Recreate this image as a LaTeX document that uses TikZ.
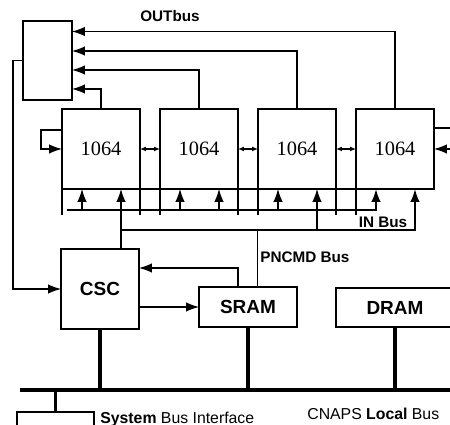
\documentclass[tikz,border=0pt]{standalone}
\usepackage{fontspec}
\setmainfont{Liberation Serif}
\setsansfont{Liberation Sans}
\usetikzlibrary{positioning, calc, arrows.meta}
\tikzset{
    chipnode/.style={rectangle, draw, line width=1.2pt, minimum width=1.56cm, minimum height=1.6cm, inner sep=0pt, outer sep=0pt, font=\fontsize{11.6}{13}\selectfont},
    unitnode/.style={rectangle, draw, line width=0.6pt, inner sep=0pt, outer sep=0pt, font=\sffamily\bfseries\fontsize{10.8}{12}\selectfont},
    boxnode/.style={rectangle, draw, line width=0.6pt, inner sep=0pt, outer sep=0pt},
    buslabel/.style={inner sep=0pt, font=\sffamily\bfseries\fontsize{8.7}{10}\selectfont},
    baselabel/.style={inner sep=0pt, font=\sffamily\fontsize{9}{11}\selectfont},
    arrow/.style={-{Latex[length=2.6mm, width=1.9mm]}, line width=0.7pt},
    dblarrow/.style={{Latex[length=1.2mm, width=1mm]}-{Latex[length=1.2mm, width=1mm]}, line width=0.8pt},
    busline/.style={line width=1.1pt},
    mainbus/.style={line width=2.4pt},
    stubline/.style={line width=1.9pt},
}

\begin{document}
\begin{tikzpicture}[x=0.02cm, y=-0.02cm]
    \useasboundingbox (0,0) rectangle (450,425);

    % OUT collector
    \node[boxnode, minimum width=0.98cm, minimum height=1.58cm] (out) at (47.5,60.5) {};
    \node[buslabel] (outlbl) at (170,16) {OUTbus};

    % Chips
    \node[chipnode] (c1) at (101,149) {1064};
    \node[chipnode] (c2) at (199,149) {1064};
    \node[chipnode] (c3) at (297,149) {1064};
    \node[chipnode] (c4) at (395,149) {1064};
    \draw[busline] (c1.south west) -- (c4.south east);
    \draw[busline] (c1.south west) -- ++(0,26);
    \draw[busline] (c1.south east) -- ++(0,26);
    \draw[busline] (c2.south west) -- ++(0,26);
    \draw[busline] (c2.south east) -- ++(0,26);
    \draw[busline] (c3.south west) -- ++(0,26);
    \draw[busline] (c3.south east) -- ++(0,26);
    \draw[busline] (c4.south west) -- ++(0,26);

    % Outputs to OUTbus
    \draw[arrow] (c4.north) |- ([yshift=0.58cm]out.east);
    \draw[arrow] (c3.north) |- ([yshift=0.19cm]out.east);
    \draw[arrow] (c2.north) |- ([yshift=-0.19cm]out.east);
    \draw[arrow] (c1.north) |- ([yshift=-0.57cm]out.east);

    % Neighbour links
    \draw[arrow] ([yshift=0.38cm]c1.west) -- ++(-21,0) |- (c1.west);
    \draw[dblarrow] (c1.east) -- (c2.west);
    \draw[dblarrow] (c2.east) -- (c3.west);
    \draw[dblarrow] (c3.east) -- (c4.west);
    \coordinate (rout) at (450,128);
    \coordinate (rin) at (450,149);
    \draw[busline] ([yshift=0.42cm]c4.east) -- (rout);
    \draw[arrow] (rin) -- (c4.east);

    % IN Bus
    \coordinate (c1l) at ([xshift=-0.38cm]c1.south);
    \coordinate (c1r) at ([xshift=0.4cm]c1.south);
    \coordinate (c2l) at ([xshift=-0.38cm]c2.south);
    \coordinate (c2r) at ([xshift=0.4cm]c2.south);
    \coordinate (c3l) at ([xshift=-0.38cm]c3.south);
    \coordinate (c3r) at ([xshift=0.4cm]c3.south);
    \coordinate (c4l) at ([xshift=-0.38cm]c4.south);
    \coordinate (c4r) at ([xshift=0.4cm]c4.south);
    \coordinate (ubus) at (67,210);
    \coordinate (lbus) at (121,230);
    \draw[arrow, busline] (ubus) -| (c4l);
    \draw[arrow, busline] (lbus) -| (c4r);
    \draw[arrow] (c1l |- ubus) -- (c1l);
    \draw[arrow] (c2l |- ubus) -- (c2l);
    \draw[arrow] (c2r |- ubus) -- (c2r);
    \draw[arrow] (c3l |- ubus) -- (c3l);
    \draw[arrow] (c3r |- lbus) -- (c3r);
    \node[buslabel, anchor=south] (inlbl) at (383,228.5) {IN Bus};

    % CSC and memories
    \node[unitnode, minimum width=1.56cm, minimum height=1.6cm] (csc) at (100,289) {CSC};
    \node[unitnode, minimum width=1.96cm, minimum height=0.8cm] (sram) at (248,307) {SRAM};
    \node[unitnode, minimum width=2.36cm, minimum height=0.78cm] (dram) at (395,307.5) {DRAM};
    \draw[arrow] (csc.north -| c1r) -- (c1r);
    \coordinate (pncmd) at (257,230);
    \draw (pncmd) -- (pncmd |- sram.north);
    \node[buslabel, anchor=west] (pnlbl) at (260,257) {PNCMD Bus};
    \draw[arrow] ([xshift=-0.2cm]sram.north) |- ([yshift=0.42cm]csc.east);
    \draw[arrow] (csc.east |- sram.west) -- (sram.west);
    \draw[arrow] (out.west) -- ++(-10,0) |- (csc.west);

    % CNAPS local bus
    \coordinate (lb0) at (20,390);
    \coordinate (lb1) at (450,390);
    \draw[mainbus] (lb0) -- (lb1);
    \draw[stubline] (csc.south) -- (csc.south |- lb0);
    \draw[stubline] (sram.south) -- (sram.south |- lb0);
    \draw[stubline] (dram.south) -- (dram.south |- lb0);
    \node[boxnode, minimum width=1.54cm, minimum height=0.4cm] (sbi) at (55.5,422) {};
    \draw[stubline] (sbi.north |- lb0) -- (sbi.north);
    \node[baselabel, anchor=base west] (sbilbl) at (100,424) {\textbf{System} Bus Interface};
    \node[baselabel, anchor=base west] (cnlbl) at (307,419.5) {CNAPS \textbf{Local} Bus};
\end{tikzpicture}
\end{document}
